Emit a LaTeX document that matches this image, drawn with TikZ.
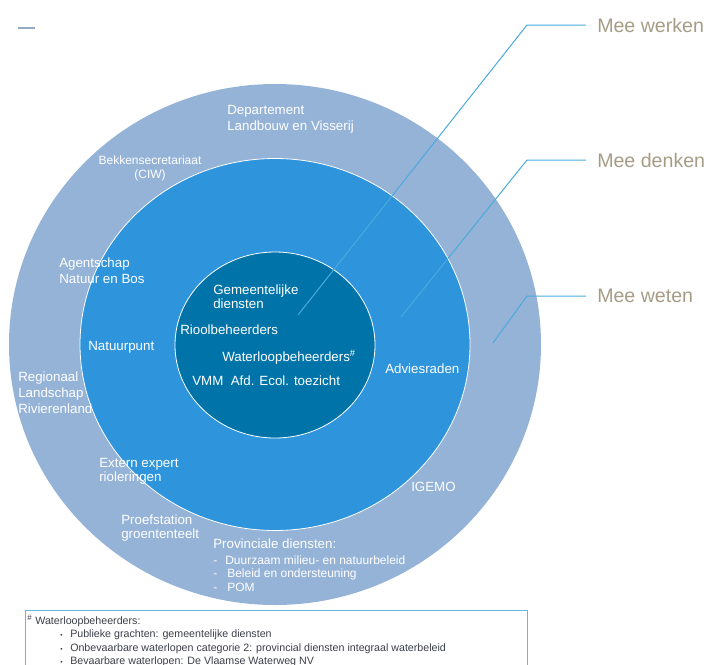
\documentclass[tikz,border=0pt]{standalone}
\usepackage{fontspec}
\setmainfont{Liberation Sans}
\usepackage{tikz}
\usetikzlibrary{positioning}
\definecolor{ringbuiten}{RGB}{149,179,215}
\definecolor{ringmidden}{RGB}{46,149,221}
\definecolor{ringbinnen}{RGB}{0,116,168}
\definecolor{lijnblauw}{RGB}{74,170,219}
\definecolor{labelbeige}{RGB}{166,156,134}
\definecolor{kaderblauw}{RGB}{100,185,225}
\definecolor{notegrijs}{RGB}{60,62,74}
\definecolor{streepgrijs}{RGB}{149,168,196}

\tikzset{
  lbl/.style={anchor=north west, inner sep=0pt, text=white, align=left,
    font=\fontsize{10}{11.5}\selectfont},
  klein/.style={font=\fontsize{9}{10.5}\selectfont},
  leader/.style={draw=lijnblauw, line width=0.75pt},
  niveau/.style={inner sep=0pt, text=labelbeige, font=\fontsize{14.7}{17}\selectfont},
}

\begin{document}
\begin{tikzpicture}[x=0.75pt,y=-0.75pt]
\useasboundingbox (0,0) rectangle (708,665);

% streepje linksboven
\draw[streepgrijs, line width=1.2pt] (18,28) -- (35,28);

% de drie ringen
\fill[ringbuiten] (275,344.5) ellipse [x radius=266, y radius=260.5];
\filldraw[fill=ringmidden, draw=white, line width=0.6pt] (275,344.5) ellipse [x radius=195, y radius=186];
\filldraw[fill=ringbinnen, draw=white, line width=0.6pt] (275,345) ellipse [x radius=100, y radius=93];

% buitenste ring
\node[lbl, font=\fontsize{10}{12}\selectfont] (departement) at (227,105) {Departement\\Landbouw en Visserij};
\node[lbl, klein, anchor=north, align=center] (bekken) at (150,155.5) {Bekkensecretariaat\\(CIW)};
\node[lbl] (agentschap) at (59,258) {Agentschap\\Natuur en Bos};
\node[lbl, font=\fontsize{10}{12}\selectfont] (regionaal) at (18,372) {Regionaal\\Landschap\\Rivierenland};
\node[lbl, font=\fontsize{10}{10.5}\selectfont] (proefstation) at (121,515) {Proefstation\\groententeelt};
\node[lbl] (provincie) at (213,539) {Provinciale diensten:};
\node[lbl, font=\fontsize{9}{10.1}\selectfont] (provlijst) at (213,555.5)
  {\makebox[9pt][l]{-}Duurzaam milieu- en natuurbeleid\\
   \makebox[10.5pt][l]{-}Beleid en ondersteuning\\
   \makebox[10.5pt][l]{-}POM};
\node[lbl] (igemo) at (411,482) {IGEMO};

% middelste ring
\node[lbl] (natuurpunt) at (88,341) {Natuurpunt};
\node[lbl, font=\fontsize{10}{10.5}\selectfont] (extern) at (99,458) {Extern expert\\rioleringen};
\node[lbl] (advies) at (385,364) {Adviesraden};

% binnenste ring
\node[lbl, font=\fontsize{10}{10.5}\selectfont] (gemeente) at (213,285) {Gemeentelijke\\diensten};
\node[lbl] (riool) at (180,325) {Rioolbeheerders};
\node[lbl] (waterloop) at (222,350) {Waterloopbeheerders\textsuperscript{\#}};
\node[lbl] (vmm) at (192,376) {VMM\ \ Afd. Ecol. toezicht};

% verwijslijnen
\coordinate (werkenvoet) at (298,315);
\coordinate (werkenknik) at (527,25);
\coordinate (werkeneind) at (586,25);
\coordinate (denkenvoet) at (401,317);
\coordinate (denkenknik) at (527,160);
\coordinate (denkeneind) at (586,160);
\coordinate (wetenvoet) at (493,343);
\coordinate (wetenknik) at (527,296);
\coordinate (weteneind) at (586,296);
\node[niveau, right=8.25pt of werkeneind] (werken) {Mee werken};
\node[niveau, right=8.25pt of denkeneind] (denken) {Mee denken};
\node[niveau, right=8.25pt of weteneind] (weten) {Mee weten};
\draw[leader] (werkenvoet) -- (werkenknik) -- (werkeneind);
\draw[leader] (denkenvoet) -- (denkenknik) -- (denkeneind);
\draw[leader] (wetenvoet) -- (wetenknik) -- (weteneind);

% voetnoot
\draw[kaderblauw, line width=0.75pt] (25,667) -- (25,610.5) -- (527,610.5) -- (527,667);
\node[anchor=north west, inner sep=0pt, text=notegrijs, align=left,
  font=\fontsize{8}{10}\selectfont] (voetnoot) at (27,615)
  {\textsuperscript{\#} Waterloopbeheerders:\\
   \hspace*{24.75pt}\makebox[7.5pt][l]{\tiny\textbullet}Publieke grachten: gemeentelijke diensten\\
   \hspace*{24.75pt}\makebox[7.5pt][l]{\tiny\textbullet}Onbevaarbare waterlopen categorie 2: provincial diensten integraal waterbeleid\\
   \hspace*{24.75pt}\makebox[7.5pt][l]{\tiny\textbullet}Bevaarbare waterlopen: De Vlaamse Waterweg NV};
\end{tikzpicture}
\end{document}
